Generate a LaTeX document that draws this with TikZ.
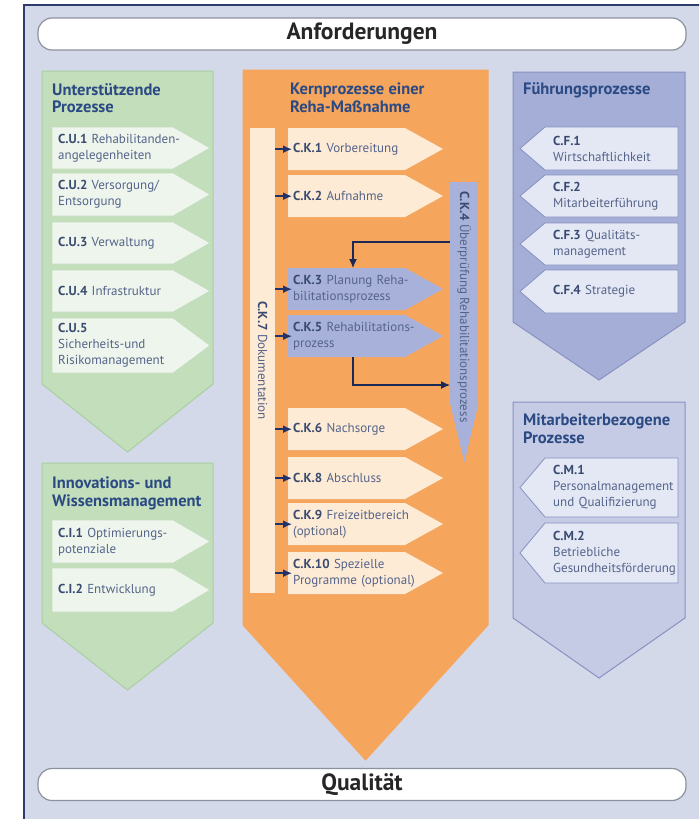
\documentclass[tikz,border=0pt]{standalone}
\usepackage{fontspec}
\setmainfont{PT Sans}
\usetikzlibrary{positioning, arrows.meta, calc}

\definecolor{rahmen}{HTML}{D4D9EA}
\definecolor{rahmenlinie}{HTML}{2E3C6B}
\definecolor{balkenrand}{HTML}{8C919C}
\definecolor{gruen}{HTML}{C3DEBB}
\definecolor{gruenrand}{HTML}{A9CFA1}
\definecolor{gruenhell}{HTML}{EEF5EC}
\definecolor{kernorange}{HTML}{F6A55C}
\definecolor{creme}{HTML}{FDEBD5}
\definecolor{blau}{HTML}{A4AED6}
\definecolor{blaurand}{HTML}{8891C1}
\definecolor{blauhell}{HTML}{E4E8F4}
\definecolor{mblau}{HTML}{C5CBE4}
\definecolor{kblau}{HTML}{A7B1DA}
\definecolor{titelblau}{HTML}{2B4A83}
\definecolor{kodeblau}{HTML}{394A70}
\definecolor{schrift}{HTML}{55648A}
\definecolor{pfeilfarbe}{HTML}{22336B}

\newcommand{\kode}[1]{{\bfseries\color{kodeblau}#1}}

\tikzset{
  titel/.style={anchor=north west, align=left, text=titelblau, inner sep=0pt,
    font=\fontsize{16.5}{17.5}\selectfont\bfseries},
  eintrag/.style={anchor=north west, align=left, text=schrift, inner ysep=0pt,
    text width=150pt, font=\fontsize{13}{16}\selectfont},
  balken/.style={rounded corners=14pt, fill=white, draw=balkenrand, line width=1.2pt,
    minimum width=648pt, minimum height=32pt, text=black!85,
    font=\fontsize{23.5}{26}\selectfont\bfseries},
  pfeil/.style={-{Latex[length=9pt,width=8pt]}, line width=1.5pt, pfeilfarbe},
  rueckpfeil/.style={-{Latex[length=9pt,width=8pt]}, line width=1.2pt, pfeilfarbe!80!black}
}

\begin{document}
\begin{tikzpicture}[x=1pt, y=-1pt]
  \path[use as bounding box] (0,0) rectangle (699,819);
  \clip (0,0) rectangle (699,819);
  \fill[white] (0,0) rectangle (699,819);
  \filldraw[fill=rahmen, draw=rahmenlinie, line width=2pt] (24,5) rectangle (720,840);

  \node[balken] (anf) at (362,34) {Anforderungen};
  \node[balken] (qual) at (362,784.5) {Qualität};

  \foreach \xl/\xr/\yt/\ys/\yp/\fc/\dc in {42/213/71/384/452/gruen/gruenrand,
      42/213/463/623/690/gruen/gruenrand, 243/488/70/625/760/kernorange/kernorange,
      513/685/72/322/380/blau/blaurand, 513/685/402/618/678/mblau/blaurand}
    \filldraw[fill=\fc, draw=\dc, line width=1pt]
      (\xl,\yt) -- (\xr,\yt) -- (\xr,\ys) -- ({(\xl+\xr)/2},\yp) -- (\xl,\ys) -- cycle;

  \node[titel] (tu) at (52,83) {Unterstützende\\Prozesse};
  \node[titel] (ti) at (52,477) {Innovations- und\\Wissensmanagement};
  \node[titel] (tk) at (290,83) {Kernprozesse einer\\Reha-Maßnahme};
  \node[titel] (tf) at (523,82) {Führungsprozesse};
  \node[titel] (tm) at (523,414) {Mitarbeiterbezogene\\Prozesse};

  \foreach \n/\y/\h/\txt in {cu1/127/42/{\kode{C.U.1} Rehabilitanden-\\angelegenheiten},
      cu2/173/43/{\kode{C.U.2} Versorgung/\\Entsorgung}, cu3/222/42/{\kode{C.U.3} Verwaltung},
      cu4/270/42/{\kode{C.U.4} Infrastruktur},
      cu5/318/55/{\kode{C.U.5}\\Sicherheits-und\\Risikomanagement},
      ci1/520/43/{\kode{C.I.1} Optimierungs-\\potenziale}, ci2/568/44/{\kode{C.I.2} Entwicklung}}
  {
    \filldraw[fill=gruenhell, draw=gruenrand!70, line width=0.6pt]
      (52,\y) -- ++(121,0) -- ++(37,\h/2) -- ++(-37,\h/2) -- ++(-121,0) -- cycle;
    \node[eintrag, inner xsep=6pt, minimum height=\h pt] (\n) at (52,\y) {\txt};
  }

  \foreach \n/\y/\h/\txt in {cf1/127/43/{\kode{C.F.1}\\Wirtschaftlichkeit},
      cf2/175/42/{\kode{C.F.2}\\Mitarbeiterführung}, cf3/223/42/{\kode{C.F.3} Qualitäts-\\management},
      cf4/270/43/{\kode{C.F.4} Strategie},
      cm1/458/59/{\kode{C.M.1}\\Personalmanagement\\und Qualifizierung},
      cm2/523/60/{\kode{C.M.2}\\Betriebliche\\Gesundheitsförderung}}
  {
    \filldraw[fill=blauhell, draw=blaurand, line width=0.8pt]
      (545,\y) -- ++(133,0) -- ++(0,\h) -- ++(-133,0) -- ++(-25,-\h/2) -- cycle;
    \node[eintrag, inner xsep=8pt, minimum height=\h pt] (\n) at (545,\y) {\txt};
  }

  \node[fill=creme, minimum width=25pt, minimum height=465pt, inner sep=0pt,
    anchor=north west] (ck7) at (250,128) {};
  \node[rotate=-90, text=schrift, font=\fontsize{13}{15}\selectfont] (ck7text) at (ck7.center)
    {\kode{C.K.7} Dokumentation};

  \foreach \n/\y/\fc/\txt in {ck1/128/creme/{\kode{C.K.1} Vorbereitung},
      ck2/175/creme/{\kode{C.K.2} Aufnahme},
      ck3/268/kblau/{\kode{C.K.3} Planung Reha-\\bilitationsprozess},
      ck5/315/kblau/{\kode{C.K.5} Rehabilitations-\\prozess},
      ck6/408/creme/{\kode{C.K.6} Nachsorge}, ck8/457/creme/{\kode{C.K.8} Abschluss},
      ck9/503/creme/{\kode{C.K.9} Freizeitbereich\\(optional)},
      ck10/552/creme/{\kode{C.K.10} Spezielle\\Programme (optional)}}
  {
    \fill[\fc] (288,\y) -- ++(117,0) -- ++(38,21) -- ++(-38,21) -- ++(-117,0) -- cycle;
    \node[eintrag, inner xsep=5pt, minimum height=42pt] (\n) at (288,\y) {\txt};
  }

  \foreach \n in {ck1,ck2,ck3,ck5,ck6,ck8,ck9,ck10}
    \draw[pfeil, shorten >=-4pt] (ck7.east |- \n.west) -- (\n.west);

  \node[fill=kblau, minimum width=28pt, minimum height=222pt, inner sep=0pt,
    anchor=north west] (ck4) at (450,182) {};
  \fill[kblau] ($(ck4.south west)+(0,-1)$) -- ($(ck4.south east)+(0,-1)$) -- ++(-14,59) -- cycle;
  \node[rotate=-90, anchor=west, text=schrift, font=\fontsize{13}{15}\selectfont] (ck4text)
    at ([yshift=-6pt]ck4.north) {\kode{C.K.4} Überprüfung Rehabilitationsprozess};

  \coordinate (knick1) at (353,242);
  \coordinate (knick2) at (353,385);
  \draw[rueckpfeil] (ck4.west |- knick1) -| (ck3.north -| knick1);
  \draw[rueckpfeil] (ck5.south -| knick2) |- (ck4.west |- knick2);
\end{tikzpicture}
\end{document}
